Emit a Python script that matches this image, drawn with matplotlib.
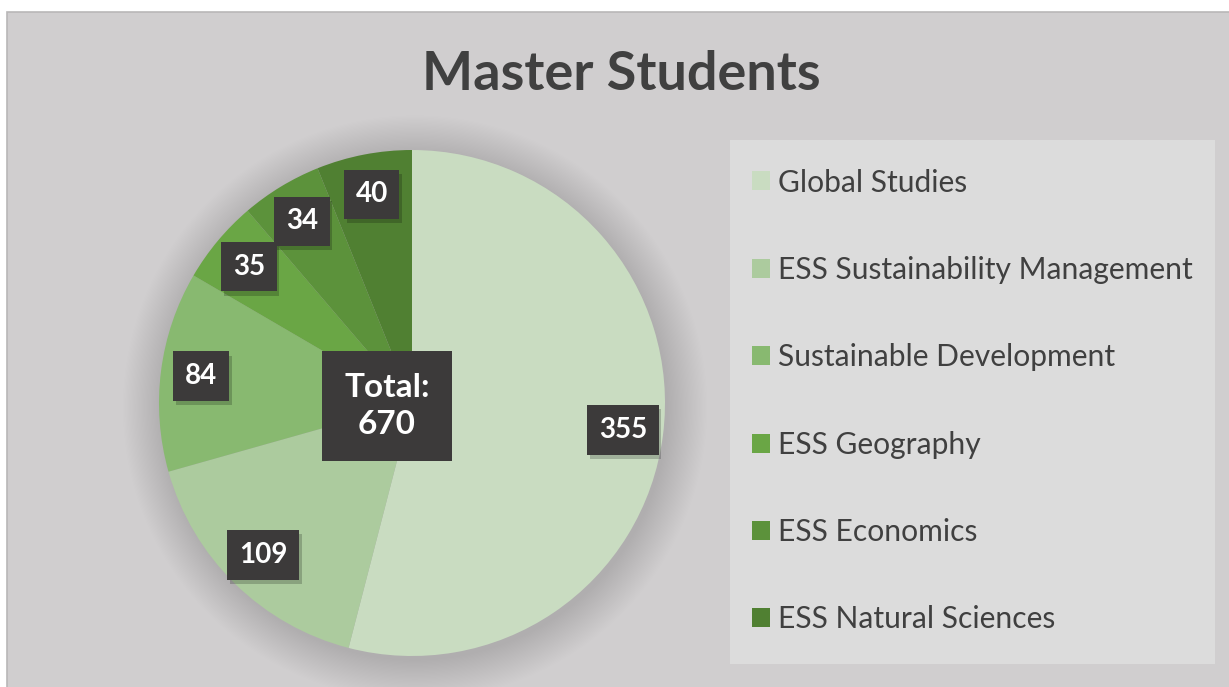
import numpy as np
import matplotlib.pyplot as plt
import matplotlib.patheffects as pe
from matplotlib.patches import Rectangle, Circle

# data
programs = ['Global Studies', 'ESS Sustainability Management', 'Sustainable Development',
            'ESS Geography', 'ESS Economics', 'ESS Natural Sciences']
students = [355, 109, 84, 35, 34, 40]
colors = ['#C9DCC1', '#ACCB9E', '#88B970', '#6AA645', '#5C923B', '#508032']
total_text = 'Total:\n670'

plt.rcParams['font.family'] = ['Lato', 'DejaVu Sans']

W, H = 1229, 687
fig = plt.figure(figsize=(W / 100, H / 100), dpi=100)
fig.patch.set_facecolor('white')

# grey chart area (white margin on top and left like the screenshot)
fig.add_artist(Rectangle((7 / W, -0.01), 1.01, 1.01 - 12 / H, transform=fig.transFigure,
                         facecolor='#D0CECF', edgecolor='#B9B7B8', lw=1.2, zorder=-10))

# title
fig.text(621 / W, 1 - 75 / H, 'Master Students', ha='center', va='center',
         fontsize=39, fontweight='bold', color='#404040')

# pie axes: centre (412, 403) px, radius 253 px
ax = fig.add_axes([159 / W, (H - 656) / H, 506 / W, 506 / H])
wedges, _ = ax.pie(students, colors=colors, startangle=90, counterclock=False,
                   radius=1, wedgeprops=dict(linewidth=0))
ax.set_xlim(-1, 1)
ax.set_ylim(-1, 1)
ax.axis('off')

# soft, wide shadow behind the pie
for i in range(32):
    c = Circle((0.012, -0.018), 1 + 0.005 * i, facecolor='black', edgecolor='none',
               alpha=0.0035, zorder=-1, clip_on=False)
    ax.add_patch(c)

shadow = [pe.withSimplePatchShadow(offset=(2, -3), shadow_rgbFace='black', alpha=0.2)]

# value labels in dark boxes
for w, v in zip(wedges, students):
    ang = np.deg2rad((w.theta1 + w.theta2) / 2)
    x, y = 0.84 * np.cos(ang), 0.84 * np.sin(ang)
    t = ax.text(x, y, str(v), ha='center', va='center', fontsize=20, fontweight='bold',
                color='white', bbox=dict(boxstyle='square,pad=0.42', fc='#3C3A3A', ec='none'),
                zorder=5)
    t.get_bbox_patch().set_path_effects(shadow)

# total box near the centre
ax.text(-0.099, -0.012, total_text, ha='center', va='center', fontsize=24, fontweight='bold',
        color='white', linespacing=1.3,
        bbox=dict(boxstyle='square,pad=0.67', fc='#3C3A3A', ec='none'), zorder=5)

# legend box
fig.add_artist(Rectangle((730 / W, (H - 664) / H), 485 / W, 524 / H, transform=fig.transFigure,
                         facecolor='#DCDCDC', edgecolor='none', zorder=-5))
leg = fig.legend(wedges, programs, loc='center left', bbox_to_anchor=(752 / W, 1 - 401 / H),
                 frameon=False, fontsize=21.6, labelcolor='#404040', handlelength=0.6,
                 handleheight=0.6, handletextpad=0.27, labelspacing=1.98,
                 borderpad=0, borderaxespad=0)

fig.savefig('out.png', dpi=100, facecolor=fig.get_facecolor())
